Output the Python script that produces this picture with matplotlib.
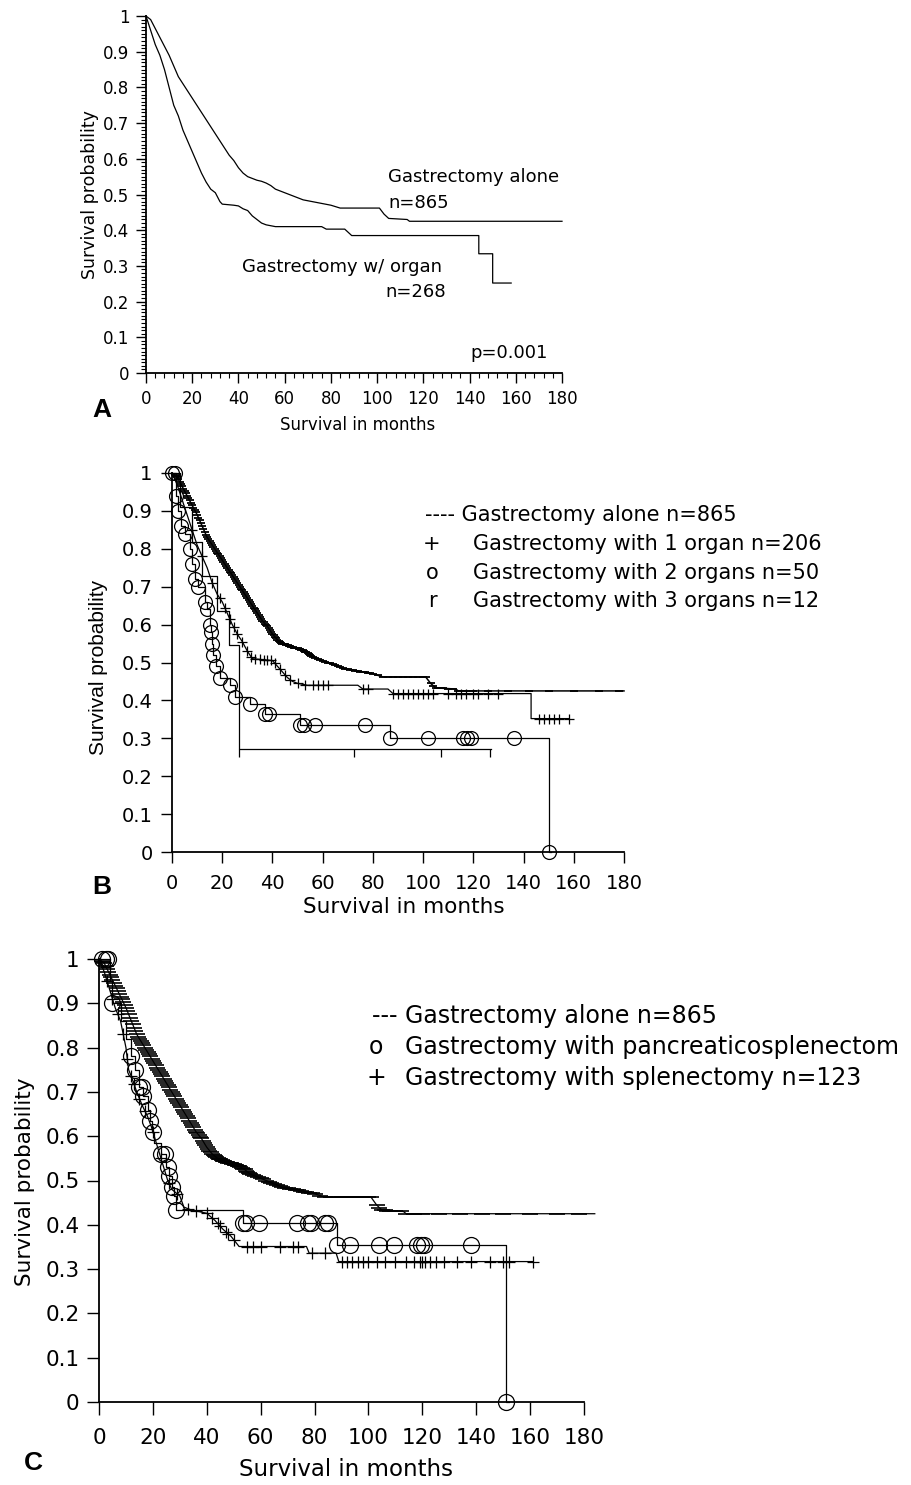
import numpy as np
import matplotlib
matplotlib.use('Agg')
import matplotlib.pyplot as plt
from matplotlib.ticker import MultipleLocator

# gastrectomy alone, n=865 (same curve in all three panels)
alone_t = [0, 2, 4, 6, 8, 10, 12, 14, 16, 18, 20, 22, 24, 26, 28, 30, 32, 34, 36, 38,
           40, 42, 44, 46, 48, 50, 52, 54, 56, 58, 60, 64, 68, 72, 76, 80, 84,
           101, 103, 105, 113, 114, 180]
alone_s = [1.0, 0.99, 0.965, 0.94, 0.915, 0.89, 0.86, 0.83, 0.81, 0.79, 0.77, 0.75, 0.73, 0.71,
           0.69, 0.67, 0.65, 0.63, 0.61, 0.595, 0.575, 0.56, 0.55, 0.545, 0.54, 0.537, 0.532,
           0.525, 0.515, 0.51, 0.505, 0.495, 0.485, 0.48, 0.475, 0.47, 0.462,
           0.462, 0.445, 0.433, 0.43, 0.425, 0.425]
# censored times (drawn as short dashes)
alone_cens = [1, 1.5, 2, 2.5, 3, 3.5, 4, 4.5, 5, 5.5, 6, 6.5, 7, 7.5, 8, 8.5, 9, 9.5, 10,
              10.5, 11, 11.5, 12, 12.5, 13, 13.5, 14, 14.5, 15, 15.5, 16, 16.5, 17, 17.5, 18,
              18.5, 19, 19.5, 20, 20.5, 21, 21.5, 22, 22.5, 23, 23.5, 24, 24.5, 25, 25.5, 26,
              26.5, 27, 27.5, 28, 28.5, 29, 29.5, 30, 30.5, 31, 31.5, 32, 32.5, 33, 33.5, 34,
              34.5, 35, 35.5, 36, 36.5, 37, 37.5, 38, 38.5, 39, 39.5, 40, 40.5, 41, 41.5, 42,
              42.5, 43, 43.5, 44, 44.5, 45, 45.5, 46, 46.5, 47, 47.5, 48, 48.5, 49, 49.5, 50,
              50.5, 51, 51.5, 52, 52.5, 53, 53.5, 54, 54.5, 55, 55.5, 56, 57, 58, 59, 60, 61,
              62, 63, 64, 65, 66, 67, 68, 69, 70, 71, 72, 73, 74, 75, 76, 77, 78, 79, 80, 82,
              84, 86, 88, 90, 92, 94, 96, 98, 100, 101, 103, 104, 105, 106, 107, 108, 110,
              112, 114, 117, 120, 126, 134, 142, 150, 160, 170, 178]
alone_end_c = 184

# panel A: gastrectomy with organ, n=268
organ_t = [0, 2, 4, 6, 8, 10, 12, 14, 16, 18, 20, 22, 24, 26, 28, 30, 32, 33, 38,
           40, 42, 44, 46, 48, 50, 52, 56, 76, 78, 86, 88, 89, 144, 144, 150, 150, 158]
organ_s = [1.0, 0.96, 0.92, 0.89, 0.85, 0.80, 0.75, 0.72, 0.68, 0.65, 0.62, 0.59, 0.56, 0.535,
           0.515, 0.505, 0.48, 0.473, 0.47, 0.468, 0.46, 0.455, 0.44, 0.43, 0.42, 0.415, 0.41,
           0.41, 0.403, 0.403, 0.391, 0.385, 0.385, 0.334, 0.334, 0.252, 0.252]

# panel B: 1 organ n=206, 2 organs n=50, 3 organs n=12
one_t = [0, 2, 4, 6, 8, 10, 12, 14, 16, 18, 20, 22, 24, 26, 28, 30, 32,
         40, 42, 44, 46, 48, 50, 54, 74, 76, 86, 88, 143, 143, 158]
one_s = [1.0, 0.97, 0.93, 0.89, 0.85, 0.81, 0.78, 0.75, 0.71, 0.68, 0.66, 0.63, 0.60, 0.575,
         0.555, 0.53, 0.51, 0.505, 0.49, 0.475, 0.46, 0.45, 0.445, 0.44, 0.44, 0.43, 0.43,
         0.418, 0.418, 0.352, 0.352]
one_cens = [8, 12, 16, 19, 21, 23, 24.5, 26, 28, 30, 31.5, 33, 35, 36.5, 38, 39.5, 41, 43, 45,
            47, 50, 53, 56, 58, 60, 62, 76, 78, 88, 90, 92, 94, 96, 98, 100, 102, 104, 110,
            113, 115, 117, 120, 122, 126, 130, 146, 148, 150, 152, 154, 158]

two_t = [0, 1.5, 2.5, 3.5, 5, 7, 8, 9, 10.5, 13, 14, 15, 15.5, 16, 16.5, 17.5, 19, 23, 25,
         31, 37, 51, 87, 150, 151]
two_s = [1.0, 0.94, 0.90, 0.86, 0.84, 0.80, 0.76, 0.72, 0.70, 0.66, 0.64, 0.60, 0.58, 0.55,
         0.52, 0.49, 0.46, 0.44, 0.41, 0.39, 0.365, 0.335, 0.30, 0.0, 0.0]
two_cens = [0, 1, 1.5, 2.5, 3.5, 5, 7, 8, 9, 10.5, 13, 14, 15, 15.5, 16, 16.5, 17.5, 19, 23,
            25, 31, 37, 38.5, 51, 52.5, 57, 77, 87, 102, 116, 117.5, 119, 136, 150]

three_t = [0, 3, 8, 12, 18, 22.5, 26.5, 127]
three_s = [1.0, 0.909, 0.818, 0.727, 0.636, 0.546, 0.273, 0.273]
three_cens = [26.5, 72.5, 107, 126.5]

# panel C: pancreaticosplenectomy and splenectomy n=123
panc_t = [0, 4, 5, 8, 10, 12, 13.5, 15, 16.5, 18, 19, 19.5, 20.5, 23, 25, 26, 27, 28, 28.5,
          53.5, 88.5, 151, 152]
panc_s = [1.0, 0.95, 0.90, 0.86, 0.82, 0.78, 0.75, 0.71, 0.69, 0.66, 0.635, 0.61, 0.585, 0.56,
          0.53, 0.51, 0.485, 0.465, 0.434, 0.404, 0.355, 0.0, 0.0]
panc_cens = [1, 2.5, 3.5, 5, 12, 13.5, 15, 16, 16.5, 18, 19, 20, 23, 24.5, 25.5, 26, 27, 28,
             28.5, 53.5, 54.5, 59.5, 73.5, 77.5, 78.5, 84, 85, 88.5, 93, 104, 109.5, 118,
             119.5, 120.5, 138, 151]

splen_t = [0, 2, 4, 6, 8, 10, 11, 12, 14, 16, 18, 19.5, 21, 22.5, 24, 25.5, 27, 30, 31.5, 34,
           40, 43, 46, 49, 52, 77, 78, 88, 89, 161]
splen_s = [1.0, 0.97, 0.93, 0.89, 0.86, 0.80, 0.75, 0.735, 0.70, 0.67, 0.645, 0.62, 0.59, 0.56,
           0.53, 0.50, 0.48, 0.465, 0.44, 0.434, 0.426, 0.41, 0.39, 0.374, 0.351, 0.351, 0.336,
           0.336, 0.317, 0.317]
splen_cens = [3, 5, 7, 9, 10.5, 12, 13, 15, 17, 20, 23, 26, 29, 33, 36, 40, 42, 44, 45, 47, 48,
              50, 55, 57, 60, 67, 72, 74, 79, 84, 90, 92, 94, 96, 98, 100, 103, 106, 110, 114,
              117, 119, 120, 121, 123, 125, 128, 133, 138, 145, 150, 152, 161]

x_ticks = [0, 20, 40, 60, 80, 100, 120, 140, 160, 180]
y_ticks = [0, 0.1, 0.2, 0.3, 0.4, 0.5, 0.6, 0.7, 0.8, 0.9, 1.0]
y_labels = ['0', '0.1', '0.2', '0.3', '0.4', '0.5', '0.6', '0.7', '0.8', '0.9', '1']

W, H = 911, 1485
fig = plt.figure(figsize=(W / 100, H / 100), dpi=100)


def px_axes(x0, x1, y0, y1):
    # axes from a pixel box, top-left origin
    return fig.add_axes([x0 / W, 1 - y1 / H, (x1 - x0) / W, (y1 - y0) / H])


def ftext(x, y, s, **kw):
    fig.text(x / W, 1 - y / H, s, **kw)


def km(ax, t, s, cens=None, marker=None, ms=6, steps=True, lw=0.9, mew=0.9):
    # large groups: read points joined directly (steps are tiny), small groups: real steps
    ds = 'steps-post' if steps else 'default'
    ax.plot(t, s, drawstyle=ds, color='k', lw=lw, clip_on=False)
    if cens is None:
        return
    if steps:
        idx = np.searchsorted(t, cens, side='right') - 1
        yc = np.asarray(s)[idx]
    else:
        yc = np.interp(cens, t, s)
    ax.plot(cens, yc, ls='none', marker=marker, ms=ms, color='k', mfc='none',
            mew=mew, clip_on=False)


def setup(ax, fs, length, xpad, ypad):
    ax.set_xlim(0, 180)
    ax.set_ylim(0, 1)
    ax.spines['top'].set_visible(False)
    ax.spines['right'].set_visible(False)
    ax.spines['left'].set_linewidth(1.3)
    ax.spines['bottom'].set_linewidth(1.3)
    ax.set_xticks(x_ticks)
    ax.set_yticks(y_ticks)
    ax.set_yticklabels(y_labels)
    ax.tick_params(direction='out', length=length, width=1, labelsize=fs)
    ax.tick_params(axis='x', pad=xpad)
    ax.tick_params(axis='y', pad=ypad)


# ---- panel A ----
axA = px_axes(146, 562, 16, 373)
setup(axA, 12, 7, 5, 5)
axA.xaxis.set_minor_locator(MultipleLocator(4))
axA.yaxis.set_minor_locator(MultipleLocator(0.01))
axA.tick_params(which='minor', direction='out', length=3.5, width=0.8)
km(axA, alone_t, alone_s, steps=False)
km(axA, organ_t, organ_s, steps=False)
axA.text(104.7, 0.55, 'Gastrectomy alone', fontsize=13, va='center')
axA.text(104.7, 0.476, 'n=865', fontsize=13, va='center')
axA.text(41.4, 0.298, 'Gastrectomy w/ organ', fontsize=13, va='center')
axA.text(103.4, 0.228, 'n=268', fontsize=13, va='center')
axA.text(174, 0.056, 'p=0.001', fontsize=13, va='center', ha='right')
ftext(358, 425, 'Survival in months', fontsize=12, ha='center', va='center')
ftext(90, 195, 'Survival probability', fontsize=12.5, ha='center', va='center', rotation=90)
ftext(92, 410, 'A', fontsize=19, fontweight='bold', family=['Liberation Sans'], va='center')

# ---- panel B ----
axB = px_axes(172, 624, 473, 852)
setup(axB, 14, 8, 8, 6)
km(axB, alone_t, alone_s, alone_cens, '_', ms=5.5, steps=False, lw=1.1, mew=1.3)
km(axB, one_t, one_s, one_cens, '+', ms=7, steps=False)
km(axB, two_t, two_s, two_cens, 'o', ms=10)
km(axB, three_t, three_s, three_cens, 3, ms=6)
ftext(404, 907, 'Survival in months', fontsize=15.5, ha='center', va='center')
ftext(98, 667, 'Survival probability', fontsize=15, family=['Liberation Sans'],
      ha='center', va='center', rotation=90)
ftext(92, 887, 'B', fontsize=19, fontweight='bold', family=['Liberation Sans'], va='center')
ftext(425, 515, '---- Gastrectomy alone n=865', fontsize=15, va='center')
for y, sym, lab in [(544, '+', 'Gastrectomy with 1 organ n=206'),
                    (573, 'o', 'Gastrectomy with 2 organs n=50'),
                    (601, 'r', 'Gastrectomy with 3 organs n=12')]:
    ftext(432, y, sym, fontsize=15, ha='center', va='center')
    ftext(473, y, lab, fontsize=15, va='center')

# ---- panel C ----
axC = px_axes(99, 584, 959, 1402)
setup(axC, 15.5, 9, 9.5, 5)
km(axC, list(alone_t) + [alone_end_c], list(alone_s) + [alone_s[-1]], alone_cens, '_',
   ms=11, steps=False, mew=1.2)
km(axC, panc_t, panc_s, panc_cens, 'o', ms=11.5)
km(axC, splen_t, splen_s, splen_cens, '+', ms=9, steps=False)
ftext(346, 1470, 'Survival in months', fontsize=16.5, ha='center', va='center')
ftext(25, 1182, 'Survival probability', fontsize=15.5, ha='center', va='center', rotation=90)
ftext(24, 1463, 'C', fontsize=19, fontweight='bold', family=['Liberation Sans'], va='center')
ftext(372, 1016, '--- Gastrectomy alone n=865', fontsize=17, va='center')
for y, sym, lab in [(1047, 'o', 'Gastrectomy with pancreaticosplenectom'),
                    (1078, '+', 'Gastrectomy with splenectomy n=123')]:
    ftext(376, y, sym, fontsize=17, ha='center', va='center')
    ftext(405, y, lab, fontsize=17, va='center')

fig.savefig('out.png', dpi=100)
